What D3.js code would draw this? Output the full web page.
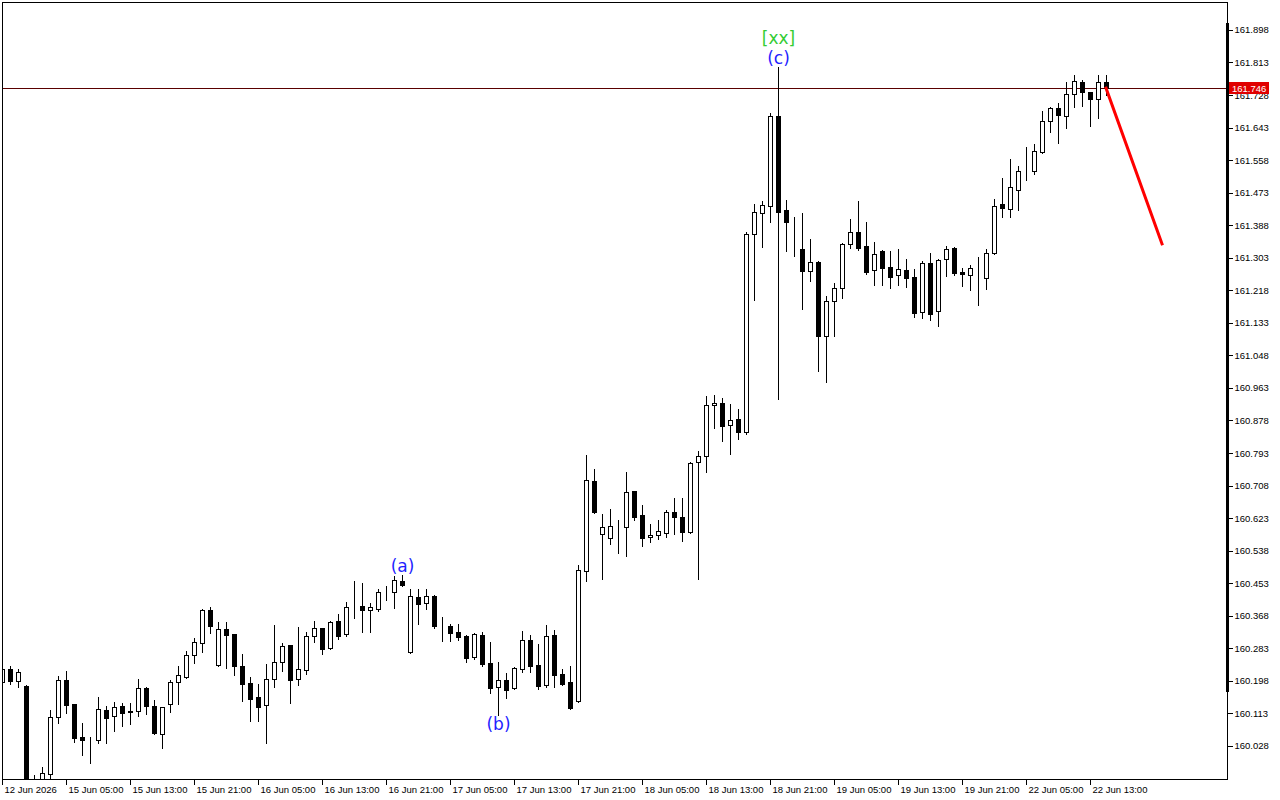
<!DOCTYPE html>
<html>
<head>
<meta charset="utf-8">
<script src="https://cdnjs.cloudflare.com/ajax/libs/d3/7.8.5/d3.min.js"></script>
<style>
html,body{margin:0;padding:0;background:#fff;}
svg{display:block;}
</style>
</head>
<body>
<svg id="chart" width="1280" height="800"></svg>
<script>
// ---------- DATA (H1 candles, index = bar number) ----------
const openP = [160.195,160.229,160.197,160.184,159.920,159.930,159.955,160.103,160.200,160.137,
160.051,160.044,160.043,160.122,160.106,160.132,160.119,160.119,160.179,160.132,
160.059,160.137,160.195,160.208,160.265,160.297,160.383,160.239,160.333,160.320,
160.237,160.192,160.156,160.135,160.203,160.247,160.291,160.203,160.226,160.315,
160.336,160.284,160.354,160.320,160.391,160.393,160.383,160.385,160.430,160.430,
160.459,160.273,160.417,160.401,160.419,160.341,160.341,160.325,160.315,160.260,
160.318,160.244,160.182,160.200,160.179,160.229,160.305,160.239,160.187,160.318,
160.216,160.195,160.145,160.485,160.720,160.581,160.571,160.600,160.600,160.694,
160.631,160.574,160.579,160.584,160.639,160.626,160.587,160.769,160.785,160.918,
160.923,160.866,160.882,160.848,161.365,161.420,161.438,161.673,161.428,161.318,
161.326,161.268,161.292,161.098,161.190,161.224,161.339,161.370,161.334,161.271,
161.320,161.279,161.258,161.271,161.253,161.161,161.289,161.164,161.300,161.328,
161.266,161.258,161.276,161.250,161.315,161.443,161.430,161.480,161.529,161.529,
161.579,161.660,161.694,161.673,161.731,161.762,161.736,161.717,161.762];

const highP = [160.231,160.237,160.229,160.187,159.952,159.973,160.122,160.210,160.224,160.137,
160.088,160.051,160.156,160.132,160.143,160.140,160.140,160.203,160.182,160.148,
160.130,160.200,160.237,160.276,160.310,160.385,160.391,160.352,160.352,160.320,
160.268,160.208,160.190,160.242,160.344,160.297,160.291,160.338,160.325,160.354,
160.336,160.354,160.372,160.404,160.459,160.453,160.401,160.438,160.446,160.472,
160.474,160.438,160.438,160.438,160.422,160.365,160.346,160.346,160.318,160.323,
160.325,160.299,160.247,160.218,160.234,160.328,160.318,160.294,160.344,160.331,
160.229,160.237,160.500,160.788,160.751,160.634,160.647,160.618,160.743,160.694,
160.657,160.607,160.618,160.644,160.675,160.675,160.769,160.798,160.942,160.944,
160.937,160.921,160.908,161.370,161.443,161.451,161.681,161.801,161.454,161.409,
161.420,161.352,161.294,161.203,161.237,161.341,161.404,161.451,161.396,161.344,
161.323,161.320,161.326,161.300,161.273,161.294,161.315,161.300,161.334,161.331,
161.276,161.284,161.305,161.326,161.456,161.511,161.561,161.542,161.592,161.600,
161.686,161.697,161.707,161.762,161.780,161.767,161.736,161.780,161.780];

const lowP = [160.192,160.190,160.182,159.913,159.905,159.915,159.941,160.088,160.114,160.038,
160.004,159.983,160.036,160.036,160.067,160.080,160.085,160.106,160.111,160.059,
160.022,160.116,160.137,160.205,160.244,160.273,160.323,160.237,160.231,160.213,
160.145,160.093,160.093,160.036,160.182,160.224,160.140,160.187,160.216,160.299,
160.268,160.281,160.307,160.315,160.362,160.325,160.325,160.380,160.409,160.388,
160.446,160.271,160.346,160.385,160.336,160.302,160.302,160.305,160.247,160.255,
160.237,160.166,160.109,160.153,160.177,160.221,160.221,160.177,160.182,160.182,
160.187,160.124,160.143,160.459,160.636,160.464,160.555,160.532,160.524,160.618,
160.550,160.560,160.568,160.574,160.581,160.563,160.584,160.464,160.743,160.858,
160.824,160.790,160.829,160.843,161.192,161.331,161.396,160.934,161.320,161.307,
161.169,161.242,161.007,160.978,161.098,161.198,161.328,161.323,161.260,161.232,
161.232,161.224,161.232,161.226,161.148,161.145,161.140,161.125,161.255,161.258,
161.229,161.219,161.179,161.221,161.313,161.409,161.409,161.428,161.506,161.522,
161.577,161.631,161.603,161.642,161.697,161.699,161.647,161.668,161.728];

const closeP = [160.229,160.197,160.221,159.931,159.936,159.957,160.103,160.200,160.135,160.049,
160.043,160.043,160.124,160.101,160.130,160.114,160.116,160.179,160.132,160.062,
160.130,160.195,160.213,160.265,160.299,160.383,160.341,160.333,160.318,160.237,
160.190,160.150,160.130,160.203,160.247,160.289,160.200,160.229,160.315,160.336,
160.281,160.352,160.315,160.391,160.390,160.383,160.391,160.430,160.431,160.461,
160.448,160.419,160.399,160.419,160.341,160.340,160.323,160.312,160.258,160.320,
160.242,160.179,160.200,160.174,160.231,160.305,160.237,160.184,160.315,160.213,
160.190,160.127,160.487,160.722,160.639,160.600,160.602,160.599,160.691,160.626,
160.571,160.579,160.589,160.639,160.626,160.587,160.767,160.785,160.918,160.923,
160.863,160.879,160.848,161.365,161.422,161.441,161.673,161.422,161.396,161.318,
161.268,161.292,161.098,161.190,161.224,161.339,161.370,161.328,161.266,161.313,
161.276,161.253,161.273,161.250,161.159,161.289,161.156,161.297,161.326,161.263,
161.260,161.276,161.277,161.315,161.438,161.433,161.488,161.529,161.530,161.582,
161.660,161.694,161.676,161.731,161.764,161.736,161.717,161.762,161.746];

const timeLabels = ["12 Jun 2026","15 Jun 05:00","15 Jun 13:00","15 Jun 21:00","16 Jun 05:00",
"16 Jun 13:00","16 Jun 21:00","17 Jun 05:00","17 Jun 13:00","17 Jun 21:00","18 Jun 05:00",
"18 Jun 13:00","18 Jun 21:00","19 Jun 05:00","19 Jun 13:00","19 Jun 21:00","22 Jun 05:00","22 Jun 13:00"];
const timeLabelBars = [0,8,16,24,32,40,48,56,64,72,80,88,96,104,112,120,128,136];

const priceTicks = [161.898,161.813,161.728,161.643,161.558,161.473,161.388,161.303,161.218,
161.133,161.048,160.963,160.878,160.793,160.708,160.623,160.538,160.453,160.368,160.283,
160.198,160.113,160.028];

const currentPrice = 161.746;
const forecastBars = [138, 145];
const forecastPrices = [161.746, 161.339];

const waveTexts = ["(a)", "(b)", "(c)", "[xx]"];
const waveBars = [50, 62, 97, 97];
const waveSide = ["high", "low", "high", "high"];
const waveColors = ["#1f1fff", "#1f1fff", "#1f1fff", "#33cc33"];

const priceDomain = [159.9415, 161.976];
const barDomain = [0, 1];
const axisThickRange = [161.916, 160.170];

// ---------- DRAW ----------
const svg = d3.select("#chart");
const plotL = 2, plotT = 2, plotR = 1227, plotB = 779;
const axisFont = "Liberation Sans, Arial, sans-serif";

const x = d3.scaleLinear().domain(barDomain).range([2, 10]);   // 8 px per bar
const y = d3.scaleLinear().domain(priceDomain).range([779, 0]);

svg.append("defs").append("clipPath").attr("id", "clip")
  .append("rect").attr("x", plotL).attr("y", plotT).attr("width", plotR - plotL).attr("height", plotB - plotT);

const g = svg.append("g").attr("clip-path", "url(#clip)");

// current price line
g.append("line")
  .attr("x1", plotL).attr("x2", plotR)
  .attr("y1", Math.round(y(currentPrice)) + 0.5).attr("y2", Math.round(y(currentPrice)) + 0.5)
  .attr("stroke", "#5a0000").attr("stroke-width", 1).attr("shape-rendering", "crispEdges");

const candles = d3.range(openP.length).map(i => ({i, o: openP[i], h: highP[i], l: lowP[i], c: closeP[i]}));

const cg = g.append("g").attr("shape-rendering", "crispEdges");
cg.selectAll("line.wick").data(candles).join("line")
  .attr("class", "wick")
  .attr("x1", d => x(d.i) + 0.5).attr("x2", d => x(d.i) + 0.5)
  .attr("y1", d => Math.round(y(d.h))).attr("y2", d => Math.round(y(d.l)) + 1)
  .attr("stroke", "#000").attr("stroke-width", 1);

cg.selectAll("rect.body").data(candles).join("rect")
  .attr("class", "body")
  .attr("x", d => x(d.i) - 1.5)
  .attr("width", 4)
  .attr("y", d => Math.round(y(Math.max(d.o, d.c))) + 0.5)
  .attr("height", d => Math.round(y(Math.min(d.o, d.c))) - Math.round(y(Math.max(d.o, d.c))))
  .attr("fill", d => d.c >= d.o ? "#fff" : "#000")
  .attr("stroke", "#000").attr("stroke-width", 1);

// forecast line
g.append("line")
  .attr("x1", x(forecastBars[0])).attr("y1", y(forecastPrices[0]))
  .attr("x2", x(forecastBars[1])).attr("y2", y(forecastPrices[1]))
  .attr("stroke", "#ff0000").attr("stroke-width", 3).attr("stroke-linecap", "square");

// wave labels
waveTexts.forEach((t, j) => {
  const b = waveBars[j];
  let yy;
  if (waveSide[j] === "low") yy = y(lowP[b]) + 15;
  else if (t === "[xx]") yy = y(highP[b]) - 23;
  else yy = y(highP[b]) - 3;
  svg.append("text")
    .attr("x", x(b) + 0.5).attr("y", yy)
    .attr("text-anchor", "middle")
    .attr("font-family", "DejaVu Sans, sans-serif")
    .attr("font-size", 17)
    .attr("fill", waveColors[j])
    .text(t);
});

// frame
svg.append("rect")
  .attr("x", plotL + 0.5).attr("y", plotT + 0.5)
  .attr("width", plotR - plotL).attr("height", plotB - plotT)
  .attr("fill", "none").attr("stroke", "#000").attr("shape-rendering", "crispEdges");

// thick part of price axis
svg.append("line")
  .attr("x1", plotR).attr("x2", plotR)
  .attr("y1", y(axisThickRange[0])).attr("y2", y(axisThickRange[1]))
  .attr("stroke", "#000").attr("stroke-width", 3).attr("shape-rendering", "crispEdges");

// price axis
const cy = Math.round(y(currentPrice));
const yAxis = d3.axisRight(y).tickValues(priceTicks).tickSize(5).tickPadding(2)
  .tickFormat(d3.format(".3f"));
const ya = svg.append("g").attr("transform", `translate(${plotR + 0.5},0)`).call(yAxis);
ya.select(".domain").remove();
ya.selectAll(".tick line").attr("stroke", "#000").attr("shape-rendering", "crispEdges");
ya.selectAll(".tick text").attr("font-family", axisFont)
  .attr("font-size", 9.5).attr("fill", "#000");

// current price tag (covers the upper part of the nearby tick label, as in MT5)
svg.append("defs").append("clipPath").attr("id", "tagclip")
  .append("rect").attr("x", 1228).attr("y", cy + 6).attr("width", 52).attr("height", 20);
ya.selectAll(".tick").filter(d => Math.abs(y(d) - cy) < 12)
  .select("text").attr("clip-path", null);
ya.selectAll(".tick").filter(d => Math.abs(y(d) - cy) < 12).each(function () {
  const t = d3.select(this).select("text");
  const tr = d3.select(this).attr("transform");
  t.remove();
  svg.append("g").attr("clip-path", "url(#tagclip)")
    .append("text")
    .attr("transform", `translate(${plotR + 0.5},0) ` + tr)
    .attr("x", 7).attr("dy", "0.32em")
    .attr("font-family", axisFont).attr("font-size", 9.5).attr("fill", "#000")
    .text(d3.format(".3f")(d3.select(this).datum()));
});

svg.append("rect").attr("x", 1229).attr("y", cy - 6).attr("width", 40).attr("height", 12)
  .attr("fill", "#e00000");
svg.append("text").attr("x", 1232).attr("y", cy + 3.5)
  .attr("font-family", axisFont).attr("font-size", 9.5)
  .attr("fill", "#fff").text(d3.format(".3f")(currentPrice));

// time axis
const tg = svg.append("g");
timeLabelBars.forEach((b, j) => {
  const tx = x(b) + 0.5;
  tg.append("line").attr("x1", tx).attr("x2", tx).attr("y1", plotB).attr("y2", plotB + 6)
    .attr("stroke", "#000").attr("shape-rendering", "crispEdges");
  tg.append("text").attr("x", tx + 2).attr("y", plotB + 14)
    .attr("font-family", axisFont).attr("font-size", 9.5)
    .attr("fill", "#000").text(timeLabels[j]);
});
</script>
</body>
</html>
